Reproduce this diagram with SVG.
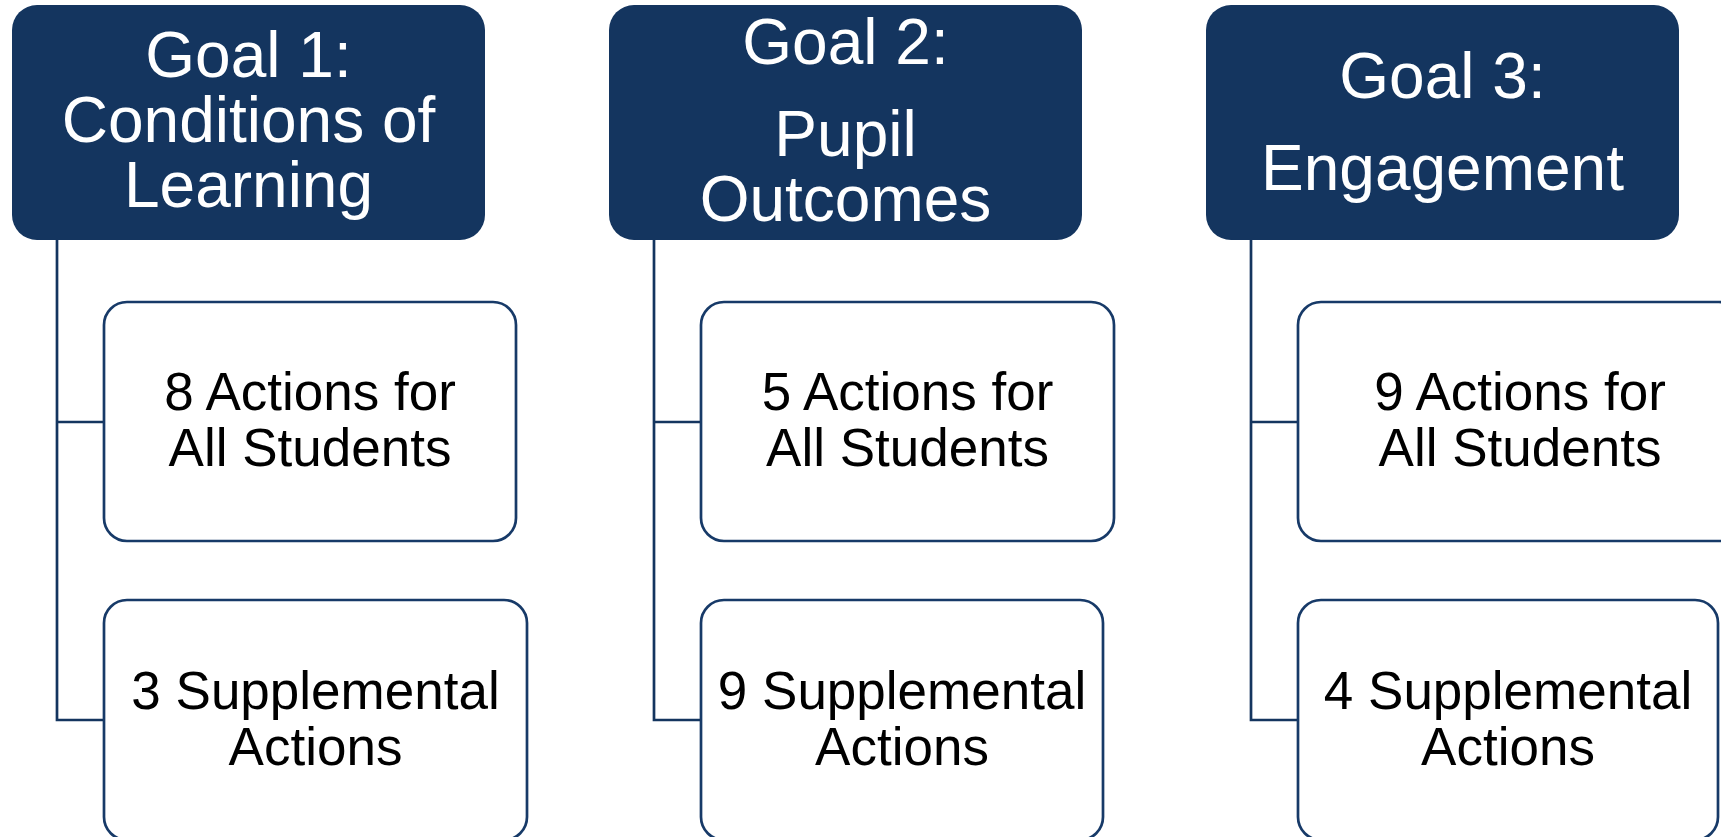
<svg xmlns="http://www.w3.org/2000/svg" width="1721" height="837" viewBox="0 0 1721 837">
<style>
.goal{fill:#14355F;}
.gt{font-family:"Liberation Sans",Arial,sans-serif;font-size:64px;fill:#FFFFFF;text-anchor:middle;}
.child{fill:#FFFFFF;stroke:#173A68;stroke-width:2.7;}
.ct{font-family:"Liberation Sans",Arial,sans-serif;font-size:53px;fill:#000000;text-anchor:middle;}
.conn{fill:none;stroke:#14355F;stroke-width:2.7;}
</style>
<rect width="1721" height="837" fill="#FFFFFF"/>
<g id="connectors">
<path class="conn" d="M57 240 V720 H104 M57 422 H104"/>
<path class="conn" d="M654 240 V720 H701 M654 422 H701"/>
<path class="conn" d="M1251 240 V720 H1298 M1251 422 H1298"/>
</g>
<g id="goal1">
<rect class="goal" x="12" y="5" width="473" height="235" rx="25"/>
<text class="gt" x="248.5" y="77">Goal 1:</text>
<text class="gt" x="248.5" y="142">Conditions of</text>
<text class="gt" x="248.5" y="207">Learning</text>
</g>
<g id="goal1-all">
<rect class="child" x="104" y="302" width="412" height="239" rx="23"/>
<text class="ct" x="310" y="410">8 Actions for</text>
<text class="ct" x="310" y="466">All Students</text>
</g>
<g id="goal1-supp">
<rect class="child" x="104" y="600" width="423" height="240" rx="23"/>
<text class="ct" x="315.5" y="709">3 Supplemental</text>
<text class="ct" x="315.5" y="765">Actions</text>
</g>
<g id="goal2">
<rect class="goal" x="609" y="5" width="473" height="235" rx="25"/>
<text class="gt" x="845.5" y="64">Goal 2:</text>
<text class="gt" x="845.5" y="156">Pupil</text>
<text class="gt" x="845.5" y="221">Outcomes</text>
</g>
<g id="goal2-all">
<rect class="child" x="701" y="302" width="413" height="239" rx="23"/>
<text class="ct" x="907.5" y="410">5 Actions for</text>
<text class="ct" x="907.5" y="466">All Students</text>
</g>
<g id="goal2-supp">
<rect class="child" x="701" y="600" width="402" height="240" rx="23"/>
<text class="ct" x="902" y="709">9 Supplemental</text>
<text class="ct" x="902" y="765">Actions</text>
</g>
<g id="goal3">
<rect class="goal" x="1206" y="5" width="473" height="235" rx="25"/>
<text class="gt" x="1442.5" y="98">Goal 3:</text>
<text class="gt" x="1442.5" y="190">Engagement</text>
</g>
<g id="goal3-all">
<rect class="child" x="1298" y="302" width="444" height="239" rx="23"/>
<text class="ct" x="1520" y="410">9 Actions for</text>
<text class="ct" x="1520" y="466">All Students</text>
</g>
<g id="goal3-supp">
<rect class="child" x="1298" y="600" width="420" height="240" rx="23"/>
<text class="ct" x="1508" y="709">4 Supplemental</text>
<text class="ct" x="1508" y="765">Actions</text>
</g>
</svg>
